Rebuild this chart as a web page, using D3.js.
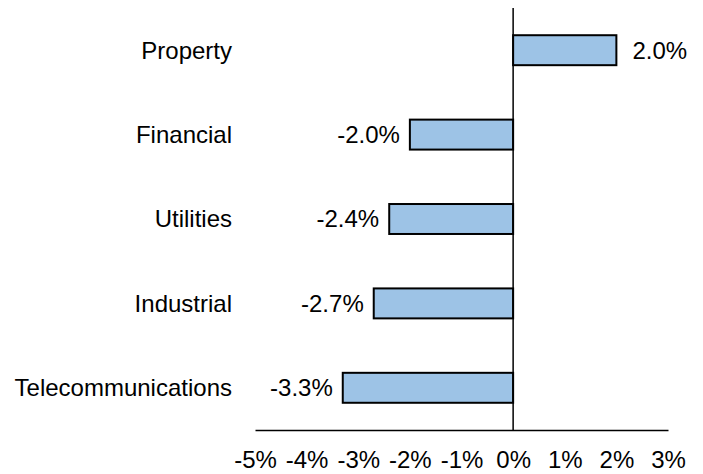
<!DOCTYPE html>
<html>
<head>
<meta charset="utf-8">
<script src="https://cdn.jsdelivr.net/npm/d3@7"></script>
<style>
  body { margin: 0; background: #fff; }
  text { font-family: "Liberation Sans", Arial, sans-serif; font-size: 24px; fill: #000; }
</style>
</head>
<body>
<script>
const categories = ["Property", "Financial", "Utilities", "Industrial", "Telecommunications"];
const values = [2.0, -2.0, -2.4, -2.7, -3.3];
const tickValues = [-5, -4, -3, -2, -1, 0, 1, 2, 3];

const baseWidth = 703,
  baseHeight = 474;
const margin = { top: 8, right: 35, bottom: 44, left: 255 };
const width = baseWidth - margin.left - margin.right;
const height = baseHeight - margin.top - margin.bottom;

const x = d3.scaleLinear().domain([-5, 3]).range([0, width]);
const y = d3
  .scaleBand()
  .domain(categories)
  .range([0, height])
  .paddingInner(0.645)
  .paddingOuter(0.3225);

const svg = d3
  .select("body")
  .append("svg")
  .attr("width", baseWidth)
  .attr("height", baseHeight);

const chart = svg
  .append("g")
  .attr("transform", "translate(" + margin.left + "," + margin.top + ")");

const data = categories.map((c, i) => ({ Name: c, Value: values[i] }));

// bars
chart
  .selectAll(".bar")
  .data(data)
  .enter()
  .append("rect")
  .attr("class", "bar")
  .attr("x", (d) => x(Math.min(0, d.Value)))
  .attr("width", (d) => Math.abs(x(d.Value) - x(0)))
  .attr("y", (d) => y(d.Name))
  .attr("height", y.bandwidth())
  .attr("fill", "#9dc3e6")
  .attr("stroke", "#000")
  .attr("stroke-width", 2);

// value labels
chart
  .selectAll(".val")
  .data(data)
  .enter()
  .append("text")
  .attr("class", "val")
  .attr("x", (d) => (d.Value >= 0 ? x(d.Value) + 16 : x(d.Value) - 10))
  .attr("y", (d) => y(d.Name) + y.bandwidth() / 2)
  .attr("dy", ".35em")
  .attr("text-anchor", (d) => (d.Value >= 0 ? "start" : "end"))
  .text((d) => d.Value.toFixed(1) + "%");

// category labels
chart
  .selectAll(".cat")
  .data(data)
  .enter()
  .append("text")
  .attr("class", "cat")
  .attr("x", -23)
  .attr("y", (d) => y(d.Name) + y.bandwidth() / 2)
  .attr("dy", ".35em")
  .attr("text-anchor", "end")
  .text((d) => d.Name);

// x axis
const xAxis = d3
  .axisBottom(x)
  .tickValues(tickValues)
  .tickSize(0)
  .tickPadding(21)
  .tickFormat((d) => d + "%");

const gx = chart
  .append("g")
  .attr("transform", "translate(0," + height + ")")
  .call(xAxis);
gx.select(".domain").attr("stroke", "#000").attr("stroke-width", 1.5);
gx.selectAll("text").style("font-size", "24px").attr("fill", "#000");

// zero line
chart
  .append("line")
  .attr("x1", x(0))
  .attr("x2", x(0))
  .attr("y1", 0)
  .attr("y2", height)
  .attr("stroke", "#000")
  .attr("stroke-width", 1.5);
</script>
</body>
</html>
